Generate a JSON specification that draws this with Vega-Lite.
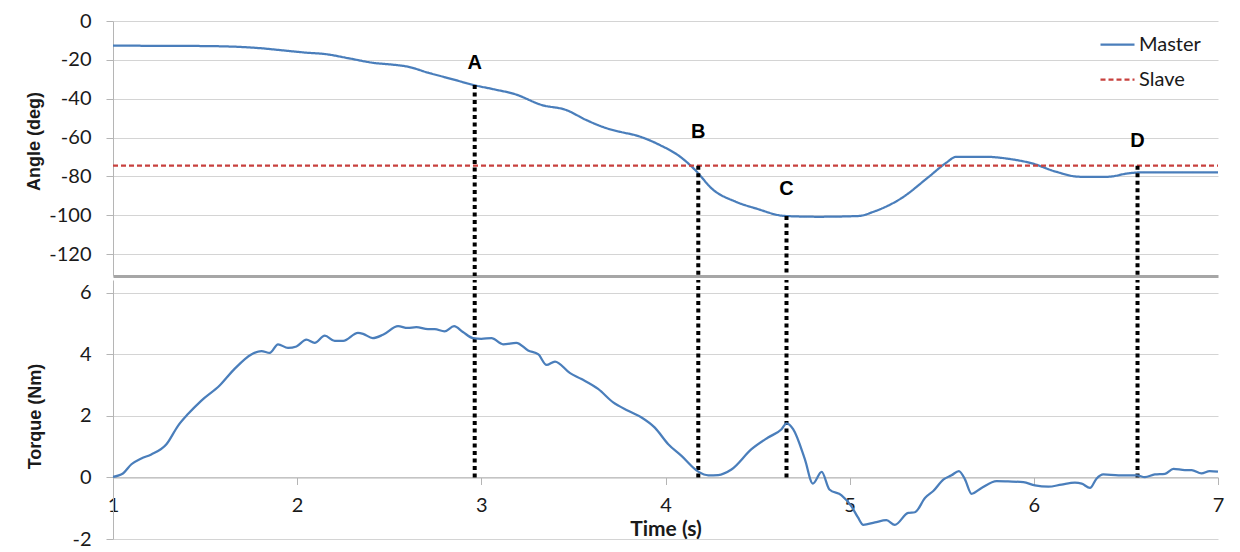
{
  "$schema": "https://vega.github.io/schema/vega-lite/v6.json",
  "background": "white",
  "padding": {"left": 24, "top": 11, "right": 10, "bottom": 15},
  "spacing": 0,
  "datasets": {
    "angle": [
      {"series": "Master", "t": 1.0, "angle": -12.7},
      {"series": "Master", "t": 1.3, "angle": -12.8},
      {"series": "Master", "t": 1.5, "angle": -12.9},
      {"series": "Master", "t": 1.74, "angle": -13.6},
      {"series": "Master", "t": 1.8, "angle": -14.0},
      {"series": "Master", "t": 1.94, "angle": -15.3},
      {"series": "Master", "t": 2.05, "angle": -16.3},
      {"series": "Master", "t": 2.15, "angle": -17.0},
      {"series": "Master", "t": 2.28, "angle": -19.2},
      {"series": "Master", "t": 2.41, "angle": -21.5},
      {"series": "Master", "t": 2.54, "angle": -22.7},
      {"series": "Master", "t": 2.6, "angle": -23.5},
      {"series": "Master", "t": 2.71, "angle": -26.6},
      {"series": "Master", "t": 2.84, "angle": -29.9},
      {"series": "Master", "t": 2.96, "angle": -33.0},
      {"series": "Master", "t": 3.07, "angle": -35.2},
      {"series": "Master", "t": 3.18, "angle": -37.6},
      {"series": "Master", "t": 3.33, "angle": -43.3},
      {"series": "Master", "t": 3.46, "angle": -45.8},
      {"series": "Master", "t": 3.57, "angle": -51.0},
      {"series": "Master", "t": 3.68, "angle": -55.2},
      {"series": "Master", "t": 3.76, "angle": -57.2},
      {"series": "Master", "t": 3.84, "angle": -58.9},
      {"series": "Master", "t": 3.97, "angle": -63.9},
      {"series": "Master", "t": 4.08, "angle": -69.9},
      {"series": "Master", "t": 4.17, "angle": -77.6},
      {"series": "Master", "t": 4.25, "angle": -86.2},
      {"series": "Master", "t": 4.38, "angle": -93.0},
      {"series": "Master", "t": 4.49, "angle": -96.5},
      {"series": "Master", "t": 4.65, "angle": -100.4},
      {"series": "Master", "t": 4.83, "angle": -100.8},
      {"series": "Master", "t": 5.05, "angle": -100.4},
      {"series": "Master", "t": 5.13, "angle": -98.2},
      {"series": "Master", "t": 5.28, "angle": -91.3},
      {"series": "Master", "t": 5.43, "angle": -80.2},
      {"series": "Master", "t": 5.52, "angle": -73.3},
      {"series": "Master", "t": 5.58, "angle": -69.9},
      {"series": "Master", "t": 5.73, "angle": -69.9},
      {"series": "Master", "t": 5.88, "angle": -71.2},
      {"series": "Master", "t": 5.99, "angle": -73.3},
      {"series": "Master", "t": 6.12, "angle": -77.6},
      {"series": "Master", "t": 6.25, "angle": -80.2},
      {"series": "Master", "t": 6.4, "angle": -80.2},
      {"series": "Master", "t": 6.51, "angle": -78.5},
      {"series": "Master", "t": 6.57, "angle": -78.0},
      {"series": "Master", "t": 7.0, "angle": -78.0},
      {"series": "Slave", "t": 1.0, "angle": -74.5},
      {"series": "Slave", "t": 7.0, "angle": -74.5}
    ],
    "torque": [
      {"t": 1.0, "torque": 0.02}, {"t": 1.054, "torque": 0.13}, {"t": 1.1, "torque": 0.43},
      {"t": 1.154, "torque": 0.62}, {"t": 1.208, "torque": 0.75}, {"t": 1.29, "torque": 1.08},
      {"t": 1.353, "torque": 1.68}, {"t": 1.407, "torque": 2.06}, {"t": 1.48, "torque": 2.5},
      {"t": 1.579, "torque": 2.99}, {"t": 1.66, "torque": 3.53}, {"t": 1.751, "torque": 4.0},
      {"t": 1.806, "torque": 4.11}, {"t": 1.851, "torque": 4.05}, {"t": 1.896, "torque": 4.33},
      {"t": 1.95, "torque": 4.21}, {"t": 1.996, "torque": 4.26}, {"t": 2.05, "torque": 4.48},
      {"t": 2.095, "torque": 4.38}, {"t": 2.15, "torque": 4.61}, {"t": 2.204, "torque": 4.44},
      {"t": 2.25, "torque": 4.44}, {"t": 2.33, "torque": 4.7}, {"t": 2.358, "torque": 4.67},
      {"t": 2.41, "torque": 4.53}, {"t": 2.466, "torque": 4.64}, {"t": 2.548, "torque": 4.92},
      {"t": 2.6, "torque": 4.86}, {"t": 2.647, "torque": 4.89}, {"t": 2.71, "torque": 4.82},
      {"t": 2.747, "torque": 4.82}, {"t": 2.8, "torque": 4.75}, {"t": 2.852, "torque": 4.92},
      {"t": 2.9, "torque": 4.73}, {"t": 2.955, "torque": 4.53}, {"t": 3.0, "torque": 4.51},
      {"t": 3.055, "torque": 4.53}, {"t": 3.118, "torque": 4.33}, {"t": 3.19, "torque": 4.38},
      {"t": 3.254, "torque": 4.13}, {"t": 3.31, "torque": 4.0}, {"t": 3.354, "torque": 3.66},
      {"t": 3.4, "torque": 3.77}, {"t": 3.48, "torque": 3.4}, {"t": 3.544, "torque": 3.2},
      {"t": 3.634, "torque": 2.88}, {"t": 3.716, "torque": 2.44}, {"t": 3.797, "torque": 2.17},
      {"t": 3.87, "torque": 1.95}, {"t": 3.942, "torque": 1.62}, {"t": 4.015, "torque": 1.08},
      {"t": 4.087, "torque": 0.7}, {"t": 4.178, "torque": 0.19}, {"t": 4.232, "torque": 0.07},
      {"t": 4.286, "torque": 0.08}, {"t": 4.358, "torque": 0.26}, {"t": 4.467, "torque": 0.92},
      {"t": 4.557, "torque": 1.3}, {"t": 4.63, "torque": 1.57}, {"t": 4.657, "torque": 1.76},
      {"t": 4.693, "torque": 1.57}, {"t": 4.757, "torque": 0.59}, {"t": 4.8, "torque": -0.2},
      {"t": 4.848, "torque": 0.18}, {"t": 4.89, "torque": -0.39}, {"t": 4.956, "torque": -0.58},
      {"t": 5.01, "torque": -0.94}, {"t": 5.045, "torque": -1.3}, {"t": 5.074, "torque": -1.54},
      {"t": 5.137, "torque": -1.46}, {"t": 5.2, "torque": -1.39}, {"t": 5.245, "torque": -1.54},
      {"t": 5.318, "torque": -1.15}, {"t": 5.354, "torque": -1.13}, {"t": 5.41, "torque": -0.66},
      {"t": 5.454, "torque": -0.44}, {"t": 5.51, "torque": -0.06}, {"t": 5.553, "torque": 0.07},
      {"t": 5.593, "torque": 0.21}, {"t": 5.626, "torque": -0.06}, {"t": 5.662, "torque": -0.53},
      {"t": 5.716, "torque": -0.34}, {"t": 5.798, "torque": -0.12}, {"t": 5.86, "torque": -0.13},
      {"t": 5.943, "torque": -0.15}, {"t": 6.006, "torque": -0.26}, {"t": 6.079, "torque": -0.3},
      {"t": 6.15, "torque": -0.23}, {"t": 6.223, "torque": -0.17}, {"t": 6.26, "torque": -0.2},
      {"t": 6.305, "torque": -0.34}, {"t": 6.34, "torque": -0.04}, {"t": 6.377, "torque": 0.1},
      {"t": 6.46, "torque": 0.07}, {"t": 6.558, "torque": 0.07}, {"t": 6.603, "torque": 0.01},
      {"t": 6.657, "torque": 0.1}, {"t": 6.712, "torque": 0.12}, {"t": 6.758, "torque": 0.28},
      {"t": 6.82, "torque": 0.24}, {"t": 6.857, "torque": 0.24}, {"t": 6.91, "torque": 0.13},
      {"t": 6.955, "torque": 0.21}, {"t": 7.0, "torque": 0.19}
    ],
    "events": [
      {"label": "A", "t": 2.964, "angle_start": -33.0, "label_angle": -21.4, "torque_end": 0},
      {"label": "B", "t": 4.178, "angle_start": -74.5, "label_angle": -57.4, "torque_end": 0},
      {"label": "C", "t": 4.657, "angle_start": -100.4, "label_angle": -86.5, "torque_end": 0},
      {"label": "D", "t": 6.563, "angle_start": -74.5, "label_angle": -61.8, "torque_end": 0}
    ]
  },
  "vconcat": [
    {
      "width": 1105,
      "height": 255,
      "encoding": {
        "x": {
          "field": "t", "type": "quantitative",
          "scale": {"domain": [1, 7], "nice": false, "zero": false},
          "axis": {"labels": false, "ticks": false, "title": null, "grid": false, "domainColor": "#a6a6a6", "domainWidth": 3}
        }
      },
      "layer": [
        {
          "data": {"name": "angle"},
          "mark": {"type": "line", "interpolate": "monotone", "strokeWidth": 2.25},
          "encoding": {
            "y": {
              "field": "angle", "type": "quantitative",
              "scale": {"domain": [-131.3, 0], "nice": false},
              "axis": {
                "values": [0, -20, -40, -60, -80, -100, -120],
                "labelExpr": "'' + datum.value",
                "title": "Angle (deg)", "titleX": -70, "titleY": 120
              }
            },
            "color": {
              "field": "series", "type": "nominal",
              "scale": {"domain": ["Master", "Slave"], "range": ["#4a7ebb", "#c8413e"]},
              "legend": {
                "orient": "none", "legendX": 986, "legendY": 5, "title": null,
                "symbolType": "stroke", "symbolSize": 1156, "symbolStrokeWidth": 2.25,
                "labelFont": "Lato", "labelFontSize": 20, "labelColor": "#1a1a1a",
                "labelOffset": 3, "rowPadding": 6, "padding": 0
              }
            },
            "strokeDash": {
              "field": "series", "type": "nominal",
              "scale": {"domain": ["Master", "Slave"], "range": [[1, 0], [5, 3]]}
            }
          }
        },
        {
          "data": {"name": "events"},
          "mark": {"type": "rule", "color": "black", "strokeWidth": 4, "strokeDash": [4, 3.5]},
          "encoding": {
            "y": {"field": "angle_start", "type": "quantitative"},
            "y2": {"datum": -131.3}
          }
        },
        {
          "data": {"name": "events"},
          "mark": {"type": "text", "font": "Liberation Sans", "fontWeight": "bold", "fontSize": 20, "baseline": "middle", "align": "center", "color": "black"},
          "encoding": {
            "y": {"field": "label_angle", "type": "quantitative"},
            "text": {"field": "label"}
          }
        }
      ]
    },
    {
      "width": 1105,
      "height": 259,
      "encoding": {
        "x": {
          "field": "t", "type": "quantitative",
          "scale": {"domain": [1, 7], "nice": false, "zero": false},
          "axis": {
            "values": [1, 2, 3, 4, 5, 6, 7], "offset": -61.5, "grid": false,
            "labelFlush": false, "labelPadding": 11, "labelExpr": "'' + datum.value",
            "title": "Time (s)", "titleFont": "Lato", "titleFontSize": 21, "titleFontWeight": "bold",
            "titleY": 41, "titleBaseline": "top"
          }
        }
      },
      "layer": [
        {
          "data": {"name": "events"},
          "mark": {"type": "rule", "color": "black", "strokeWidth": 4, "strokeDash": [4, 3.5]},
          "encoding": {
            "y": {
              "field": "torque_end", "type": "quantitative",
              "scale": {"domain": [-2, 6.42], "nice": false, "zero": false},
              "axis": {
                "values": [-2, 0, 2, 4, 6],
                "labelExpr": "'' + datum.value",
                "title": "Torque (Nm)", "titleX": -69, "titleY": 136
              }
            },
            "y2": {"datum": 6.42}
          }
        },
        {
          "data": {"name": "torque"},
          "mark": {"type": "line", "interpolate": "monotone", "strokeWidth": 2.25, "color": "#4a7ebb"},
          "encoding": {
            "y": {"field": "torque", "type": "quantitative"}
          }
        }
      ]
    }
  ],
  "config": {
    "view": {"stroke": null},
    "axis": {
      "gridColor": "#d4d4d4",
      "domainColor": "#b5b5b5",
      "tickColor": "#b5b5b5",
      "tickSize": 7,
      "labelFont": "Lato",
      "labelFontSize": 20,
      "labelColor": "#1a1a1a",
      "titleColor": "#1a1a1a",
      "titleFont": "Liberation Sans",
      "titleFontSize": 18,
      "titleFontWeight": "bold"
    },
    "axisY": {"labelPadding": 15},
    "axisX": {"grid": false}
  }
}
